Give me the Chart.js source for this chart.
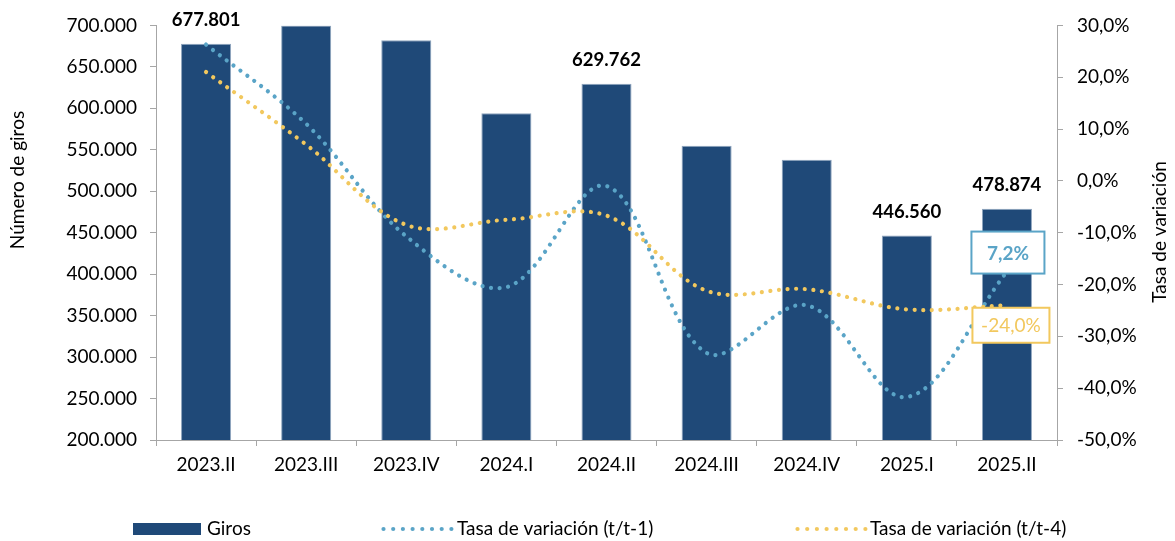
<!DOCTYPE html>
<html>
<head>
<meta charset="utf-8">
<script src="https://cdn.jsdelivr.net/npm/chart.js@4.4.0/dist/chart.umd.min.js"></script>
<style>
html,body{margin:0;padding:0;background:#fff;}
#wrap{width:1175px;height:541px;position:relative;}
</style>
</head>
<body>
<div id="wrap"><canvas id="c"></canvas></div>
<script>
// ---- data ----
const categories = ['2023.II','2023.III','2023.IV','2024.I','2024.II','2024.III','2024.IV','2025.I','2025.II'];
const giros = [677801, 700000, 682000, 594200, 629762, 555000, 538000, 446560, 478874];
const tasaT1 = [26.3, 11.0, -10.7, -20.5, -1.0, -33.2, -24.0, -41.7, -17.5];
const tasaT4 = [21.0, 7.0, -8.5, -7.5, -6.7, -21.2, -20.9, -24.8, -24.0];
const giroLabelIdx = [0, 4, 7, 8];
const lastLabelT1 = '7,2%';
const lastLabelT4 = '-24,0%';
const seriesNames = ['Giros', 'Tasa de variación (t/t-1)', 'Tasa de variación (t/t-4)'];
const axisTitles = ['Número de giros', 'Tasa de variación'];

// ---- style ----
const FONT = 'Lato, "Open Sans", sans-serif';
const BAR = '#1F4978';
const BAR_EDGE = '#8FA5BE';
const BLUE = '#5AA4C7';
const YELLOW = '#F2C85E';
const AXIS = '#A6A6A6';
const FS = 19;

const fmtThousands = v => String(Math.round(v)).replace(/\B(?=(\d{3})+(?!\d))/g, '.');
const fmtPct = v => v.toFixed(1).replace('.', ',') + '%';

const annot = {
  id: 'annot',
  afterDatasetsDraw(chart) {
    const ctx = chart.ctx;
    ctx.save();
    const barMeta = chart.getDatasetMeta(0);
    ctx.font = 'bold 18.5px ' + FONT;
    ctx.fillStyle = '#000';
    ctx.textAlign = 'center';
    ctx.textBaseline = 'middle';
    giroLabelIdx.forEach(i => {
      const el = barMeta.data[i];
      ctx.fillText(fmtThousands(giros[i]), el.x, el.y - 24);
    });
    const n = categories.length - 1;
    const p1 = chart.getDatasetMeta(1).data[n];
    const p4 = chart.getDatasetMeta(2).data[n];
    function box(cx, cy, w, h, color, text, bold) {
      ctx.fillStyle = '#fff';
      ctx.fillRect(cx - w / 2, cy - h / 2, w, h);
      ctx.lineWidth = 2;
      ctx.strokeStyle = color;
      ctx.strokeRect(cx - w / 2, cy - h / 2, w, h);
      ctx.fillStyle = color;
      ctx.font = (bold ? 'bold ' : '') + '19px ' + FONT;
      ctx.fillText(text, cx, cy + 1);
    }
    box(p1.x + 1, p1.y - 19, 73, 42, BLUE, lastLabelT1, true);
    box(p4.x + 4, p4.y + 20, 77, 35, YELLOW, lastLabelT4, false);
    ctx.restore();
  },
  afterDraw(chart) {
    const ctx = chart.ctx;
    ctx.save();
    ctx.fillStyle = '#000';
    ctx.font = FS + 'px ' + FONT;
    ctx.textAlign = 'center';
    ctx.textBaseline = 'middle';
    ctx.save();
    ctx.translate(18, 180);
    ctx.rotate(-Math.PI / 2);
    ctx.fillText(axisTitles[0], 0, 0);
    ctx.restore();
    ctx.save();
    ctx.translate(1160, 232);
    ctx.rotate(-Math.PI / 2);
    ctx.fillText(axisTitles[1], 0, 0);
    ctx.restore();
    // legend
    const ly = 529;
    ctx.textAlign = 'left';
    ctx.fillStyle = BAR;
    ctx.fillRect(133, 523, 68, 12);
    ctx.fillStyle = '#000';
    ctx.fillText(seriesNames[0], 207, ly);
    function dots(x0, color) {
      ctx.fillStyle = color;
      for (let k = 0; k < 8; k++) {
        ctx.beginPath();
        ctx.arc(x0 + k * 9.7, ly, 2.1, 0, Math.PI * 2);
        ctx.fill();
      }
    }
    dots(383.5, BLUE);
    ctx.fillStyle = '#000';
    ctx.fillText(seriesNames[1], 457, ly);
    dots(797.5, YELLOW);
    ctx.fillStyle = '#000';
    ctx.fillText(seriesNames[2], 870, ly);
    ctx.restore();
  }
};

const gridOpts = { display: true, drawOnChartArea: false, drawTicks: true, tickLength: 6, color: AXIS };

new Chart(document.getElementById('c'), {
  data: {
    labels: categories,
    datasets: [
      {
        type: 'bar', label: seriesNames[0], data: giros, yAxisID: 'y',
        backgroundColor: BAR, borderColor: BAR_EDGE, borderWidth: 1,
        barPercentage: 0.5, categoryPercentage: 1.0, order: 3
      },
      {
        type: 'line', label: seriesNames[1], data: tasaT1, yAxisID: 'y1',
        borderColor: BLUE, borderWidth: 4.2, borderDash: [0.01, 8.6], borderCapStyle: 'round',
        pointRadius: 0, tension: 0.35, fill: false, order: 2
      },
      {
        type: 'line', label: seriesNames[2], data: tasaT4, yAxisID: 'y1',
        borderColor: YELLOW, borderWidth: 4.2, borderDash: [0.01, 8.6], borderCapStyle: 'round',
        pointRadius: 0, tension: 0.35, fill: false, order: 1
      }
    ]
  },
  options: {
    responsive: true,
    maintainAspectRatio: false,
    animation: false,
    layout: { padding: { top: 24, left: 0, right: 0, bottom: 0 } },
    plugins: { legend: { display: false }, tooltip: { enabled: false } },
    scales: {
      x: {
        grid: Object.assign({ offset: true }, gridOpts),
        border: { display: true, color: AXIS, width: 1 },
        ticks: { font: { family: FONT, size: FS }, color: '#000', padding: 7, maxRotation: 0 },
        afterFit(s) { s.height = 101; }
      },
      y: {
        position: 'left', min: 200000, max: 700000,
        grid: gridOpts,
        border: { display: true, color: AXIS, width: 1 },
        ticks: { stepSize: 50000, font: { family: FONT, size: FS }, color: '#000', padding: 13,
                 callback: v => fmtThousands(v) },
        afterFit(s) { s.width = 156; }
      },
      y1: {
        position: 'right', min: -50, max: 30,
        grid: gridOpts,
        border: { display: true, color: AXIS, width: 1 },
        ticks: { stepSize: 10, font: { family: FONT, size: FS }, color: '#000', padding: 14,
                 callback: v => fmtPct(v) },
        afterFit(s) { s.width = 118; }
      }
    }
  },
  plugins: [annot]
});
</script>
</body>
</html>
